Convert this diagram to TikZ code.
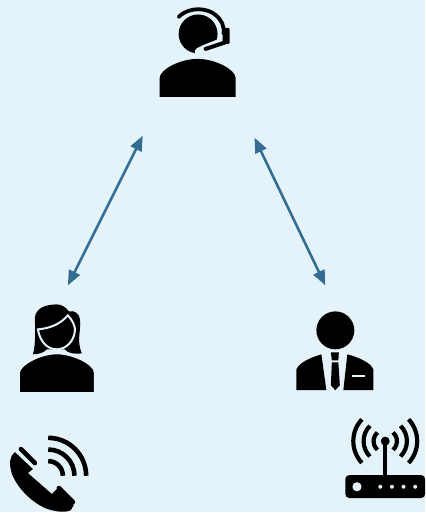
\documentclass[tikz,border=0pt]{standalone}
\usetikzlibrary{arrows.meta,calc}
\definecolor{bgblue}{HTML}{E4F3F9}
\definecolor{linkblue}{HTML}{336E92}
\tikzset{
    link/.style = {draw=linkblue,line width=2.6pt,{Triangle[length=15pt,width=12pt]}-{Triangle[length=15pt,width=12pt]}},
    icon/.style = {fill=black,draw=none},
    gap/.style = {draw=bgblue,line width=2pt},
    wave/.style = {draw=black,line width=4.6pt},
    band/.style = {draw=black,line width=4pt,line cap=round}
}
\begin{document}
\begin{tikzpicture}[x=1pt,y=-1pt]

        \fill[bgblue] (0,0) rectangle (426,513);

        \coordinate (agentl) at (143,136);
        \coordinate (agentr) at (255,138);
        \coordinate (woman) at (68,286);
        \coordinate (man) at (326,286);

        \draw[link] (agentl) -- (woman);
        \draw[link] (agentr) -- (man);

        % agent
        \coordinate (agenthead) at (198.5,34);
        \fill[icon] (agenthead) circle (19.5);
        \draw[draw=bgblue,line width=8pt,line cap=round] (225,41) -- (205,49) -- (199,52);
        \fill[icon] (160,97) -- (160,78) .. controls (160,70) and (180,59) .. (198,59) .. controls (216,59) and (236,70) .. (236,78) -- (236,97) -- cycle;
        \draw[band,line width=3.8pt] (179,17) .. controls (190,6) and (208,8) .. (216,15) .. controls (222,20) and (225,26) .. (224,34);
        \fill[icon,rounded corners=1pt] (223,28) rectangle (230,44);
        \draw[band,line width=4pt] (227,42) -- (206,49);

        % woman
        \fill[icon] (33,355) .. controls (36,345) and (35,330) .. (35,318) .. controls (36,308) and (47,305) .. (57,305) .. controls (62,305) and (66,308) .. (69,312) .. controls (74,311) and (79,313) .. (80,320) .. controls (82,330) and (76,340) .. (82,354) .. controls (74,355) and (68,354) .. (65,350) -- (47,350) .. controls (43,354) and (38,355) .. (33,355) -- cycle;
        \filldraw[icon,gap,draw=bgblue] (38,330) .. controls (50,329) and (60,325) .. (68,316) .. controls (72,320) and (76,327) .. (75,332) .. controls (74,342) and (66,350) .. (57,350) .. controls (47,350) and (40,342) .. (38,330) -- cycle;
        \filldraw[icon,gap,draw=bgblue] (19,394) -- (19,373) .. controls (20,365) and (40,354) .. (57,354) .. controls (74,354) and (95,365) .. (95,373) -- (95,394) -- cycle;
        \fill[bgblue] (15,393) rectangle (100,396);

        % man
        \coordinate (manhead) at (336,331);
        \fill[icon] (manhead) circle (19);
        \fill[icon] (297,391) -- (297,370) .. controls (300,363) and (312,358) .. (322,355) -- (327,391) -- cycle;
        \fill[icon] (374,391) -- (374,370) .. controls (371,363) and (359,358) .. (348,355) -- (344,391) -- cycle;
        \fill[icon] (331.5,353) -- (339.5,353) -- (339,361) -- (332.5,361) -- cycle;
        \fill[icon] (332.5,363) -- (339,363) -- (340.5,386) -- (336,391) -- (331.5,386) -- cycle;
        \fill[bgblue] (353,375.5) rectangle (365.5,378);

        % phone
        \coordinate (phonec) at (48.3,476.7);
        \foreach \r in {14.7,26.3,38}
            \draw[wave] ($(phonec)+(0:\r)$) arc[start angle=0,end angle=-90,radius=\r];
        \fill[icon] (15,453) .. controls (9,458) and (9,465) .. (12,475) .. controls (18,490) and (32,503) .. (45,509) .. controls (55,513) and (66,514) .. (71,511) -- (74,506) -- (57,490) -- (52,495) -- (28,474) -- (33,470) -- cycle;
        \draw[band,line width=4.6pt] (21,450) -- (35,464);
        \draw[band,line width=4.6pt] (59,489) -- (73,503);

        % router
        \coordinate (routerc) at (386,442);
        \foreach \r/\a in {11.7/48,21.7/45,32/43}{
            \draw[wave,line width=4.2pt] ($(routerc)+(\a:\r)$) arc[start angle=\a,end angle=-\a,radius=\r];
            \draw[wave,line width=4.2pt] ($(routerc)+(180-\a:\r)$) arc[start angle=180-\a,end angle=180+\a,radius=\r];
        }
        \fill[icon] (routerc) circle (4.5);
        \draw[draw=black,line width=3.6pt] (routerc) -- (386,477);
        \fill[icon] (346,476) [rounded corners=4pt] rectangle (426,499);
        \fill[bgblue] (357.7,487.7) circle (4.6);
        \foreach \x in {381,392.7,404.3,416}
            \fill[bgblue] (\x,487.7) circle (2);

\end{tikzpicture}
\end{document}
